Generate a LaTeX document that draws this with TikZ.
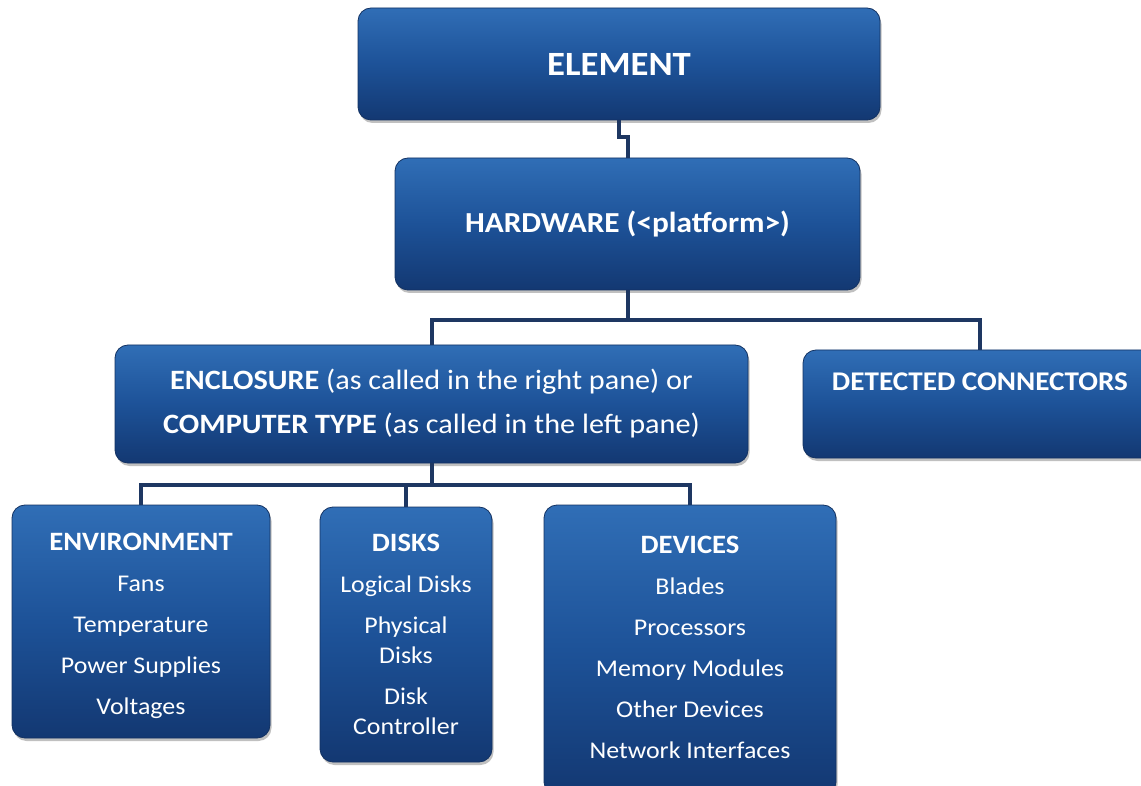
\documentclass[tikz,border=0pt]{standalone}
\usepackage{fontspec}
\setmainfont{Carlito}[FakeStretch=1.08]
\usetikzlibrary{shadows}
\definecolor{boxtop}{RGB}{48,110,182}
\definecolor{boxmid}{RGB}{29,82,152}
\definecolor{boxbot}{RGB}{19,56,114}
\definecolor{boxedge}{RGB}{19,50,98}
\definecolor{linkc}{RGB}{30,55,98}
\tikzset{
  bluebox/.style={rounded corners=13pt, draw=boxedge, line width=0.8pt,
    top color=boxtop, bottom color=boxbot, middle color=boxmid,
    drop shadow={shadow xshift=1.5pt, shadow yshift=-3pt, opacity=0.35, fill=black!70},
    inner sep=0pt, text=white, align=center},
  boxtext/.style={text=white, align=center, inner sep=0pt},
  conn/.style={draw=linkc, line width=4pt},
}
\newcommand{\ttlfont}{\fontsize{26.5}{41}\selectfont\bfseries}
\begin{document}
\begin{tikzpicture}[x=1pt,y=-1pt]
\useasboundingbox (0,0) rectangle (1141,786);
\fill[white] (0,0) rectangle (1141,786);

\node[bluebox, minimum width=522pt, minimum height=112pt, font=\fontsize{34}{40}\selectfont\bfseries] (el) at (619,64) {ELEMENT};
\node[bluebox, minimum width=465pt, minimum height=132pt, font=\fontsize{29}{34}\selectfont\bfseries] (hw) at (627.5,224) {HARDWARE (<platform>)};
\node[bluebox, minimum width=633pt, minimum height=118pt, font=\fontsize{28}{44}\selectfont] (enc) at (431.5,404)
  {\textbf{ENCLOSURE} (as called in the right pane) or\\\textbf{COMPUTER TYPE} (as called in the left pane)};
\node[bluebox, minimum width=354pt, minimum height=108pt] (det) at (980,404) {};
\node[boxtext, font=\fontsize{27}{32}\selectfont\bfseries] (dett) at (980,382) {DETECTED CONNECTORS};

\node[bluebox, minimum width=258pt, minimum height=233pt] (env) at (141,621.5) {};
\node[boxtext, anchor=north, font=\fontsize{24}{41}\selectfont] (envt) at (141,533)
  {{\ttlfont ENVIRONMENT}\\Fans\\Temperature\\Power Supplies\\Voltages};

\node[bluebox, minimum width=172pt, minimum height=255pt] (dsk) at (406,634.5) {};
\node[boxtext, anchor=north, font=\fontsize{24}{41}\selectfont] (dskt) at (406,534)
  {{\ttlfont DISKS}\\Logical Disks\\Physical\\[-11pt]Disks\\Disk\\[-11pt]Controller};

\node[bluebox, minimum width=292pt, minimum height=290pt] (dev) at (690,650) {};
\node[boxtext, anchor=north, font=\fontsize{24}{41}\selectfont] (devt) at (690,536)
  {{\ttlfont DEVICES}\\Blades\\Processors\\Memory Modules\\Other Devices\\Network Interfaces};

\draw[conn] (el.south) -- ++(0,17) -| (hw.north);
\draw[conn] (hw.south) -- ++(0,30) -| (enc.north);
\draw[conn] (hw.south) -- ++(0,30) -| (det.north);
\draw[conn] (enc.south) -- ++(0,22) -| (env.north);
\draw[conn] (enc.south) -- ++(0,22) -| (dsk.north);
\draw[conn] (enc.south) -- ++(0,22) -| (dev.north);
\end{tikzpicture}
\end{document}
